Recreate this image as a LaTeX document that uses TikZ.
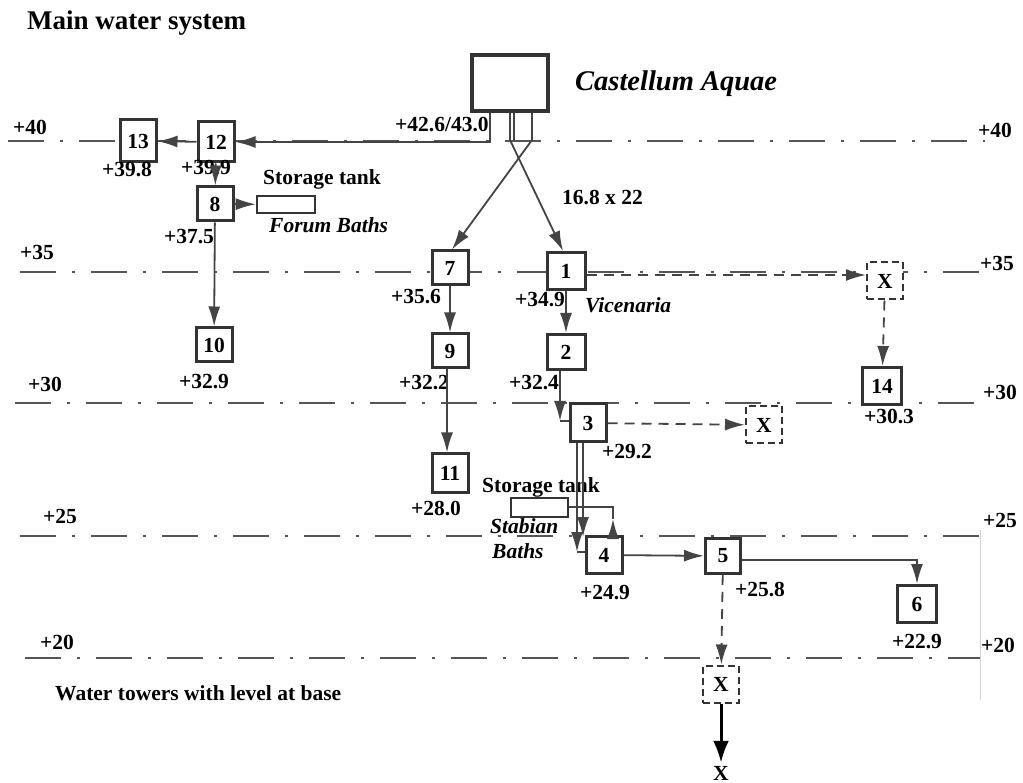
\documentclass[tikz,border=0pt]{standalone}
\usepackage{fontspec}
\setmainfont{Liberation Serif}
\usetikzlibrary{arrows.meta,calc}
\definecolor{ink}{HTML}{333333}
\definecolor{ln}{HTML}{444444}
\definecolor{lv}{HTML}{555555}
\newcommand{\lblfont}{\fontsize{21.5}{24}\selectfont\bfseries}
\tikzset{
 box/.style={draw=ink, line width=3pt, fill=white, minimum width=36pt, minimum height=36pt, inner sep=0pt, font=\lblfont},
 xbox/.style={draw=ink, line width=2pt, dash pattern=on 7pt off 4pt, fill=white, minimum width=36pt, minimum height=37pt, inner sep=0pt, font=\lblfont},
 tank/.style={draw=ink, line width=2.6pt, fill=white, inner sep=0pt},
 lab/.style={font=\lblfont, inner sep=0pt},
 ilab/.style={font=\lblfont\itshape, inner sep=0pt},
 arr/.style={draw=ln, line width=1.8pt, -{Latex[length=20pt,width=12pt]}},
 pipe/.style={draw=ln, line width=1.8pt},
 darr/.style={arr, dash pattern=on 10pt off 7pt},
 lvl/.style={draw=lv, line width=1.2pt, dash pattern=on 36pt off 16pt on 3pt off 16pt},
}
\begin{document}
\begin{tikzpicture}[x=1pt,y=-1pt]
\fill[white] (0,0) rectangle (1023,783);
\useasboundingbox (0,0) rectangle (1023,783);

% level lines
\draw[lvl] (8,141) -- (985,141);
\draw[lvl] (20,272) -- (985,272);
\draw[lvl] (15,403) -- (985,403);
\draw[lvl] (20,536) -- (980,536);
\draw[lvl] (25,658) -- (980,658);
\draw[gray!35, line width=0.6pt] (980,530) -- (980,700);

% level labels
\node[lab] (l40) at (30,127) {+40};
\node[lab] (l35) at (37,252) {+35};
\node[lab] (l30) at (45,384) {+30};
\node[lab] (l25) at (60,516) {+25};
\node[lab] (l20) at (57,642) {+20};
\node[lab] (r40) at (995,130) {+40};
\node[lab] (r35) at (997,263) {+35};
\node[lab] (r30) at (1000,392) {+30};
\node[lab] (r25) at (1000,520) {+25};
\node[lab] (r20) at (998,645) {+20};

% title and texts
\node[font=\fontsize{27}{30}\selectfont\bfseries, anchor=base west, inner sep=0pt] (title) at (27,30) {Main water system};
\node[font=\fontsize{28.5}{31}\selectfont\bfseries\itshape, anchor=base west, inner sep=0pt] (catxt) at (575,91) {Castellum Aquae};
\node[lab, anchor=base west] (st1) at (263,185) {Storage tank};
\node[ilab, anchor=base west] (forum) at (269,233) {Forum Baths};
\node[lab, anchor=base west] (st2) at (482,493) {Storage tank};
\node[ilab, anchor=base west] (stab) at (490,533) {Stabian};
\node[ilab, anchor=base west] (baths) at (492,558) {Baths};
\node[ilab, anchor=base west] (vic) at (585,313) {Vicenaria};
\node[lab, anchor=base west] (dim) at (562,205) {16.8 x 22};
\node[lab, anchor=base west] (h43) at (395,132) {+42.6/43.0};
\node[lab, anchor=base west] (wt) at (55,700) {Water towers with level at base};

% boxes
\node[draw=ink, line width=3.6pt, fill=white, minimum width=76pt, minimum height=56pt, inner sep=0pt] (ca) at (510,83) {};
\node[box, minimum height=42pt] (n13) at (138,141) {13};
\node[box, minimum height=40pt] (n12) at (216,142) {12};
\node[box, minimum height=34pt] (n8) at (215,204) {8};
\node[tank, minimum width=58pt, minimum height=17pt] (tankF) at (286,204.5) {};
\node[box, minimum height=34pt] (n10) at (214,345) {10};
\node[box, minimum height=34pt] (n7) at (450,268) {7};
\node[box, minimum width=38pt, minimum height=37pt] (n1) at (566,271) {1};
\node[box, minimum height=34pt] (n9) at (450,351) {9};
\node[box, minimum width=38pt, minimum height=35pt] (n2) at (566,352) {2};
\node[box, minimum height=38pt] (n11) at (450,473) {11};
\node[box, minimum height=38pt] (n3) at (588,423) {3};
\node[tank, minimum width=57pt, minimum height=19pt] (tankS) at (539.5,507.5) {};
\node[box, minimum height=37pt] (n4) at (604,555) {4};
\node[box, minimum width=35pt, minimum height=35pt] (n5) at (723,556) {5};
\node[box, minimum width=39pt, minimum height=37pt] (n6) at (917,604) {6};
\node[box, minimum width=39pt, minimum height=37pt] (n14) at (882,386) {14};
\node[xbox] (xa) at (885,281) {X};
\node[xbox] (xb) at (764,425) {X};
\node[xbox] (xc) at (721,684) {X};
\node[lab] (xfin) at (721,773) {X};

% number labels
\node[lab] at (127,170) {+39.8};
\node[lab] at (206,168) {+39.9};
\node[lab] at (189,237) {+37.5};
\node[lab] at (204,382) {+32.9};
\node[lab] at (416,297) {+35.6};
\node[lab] at (540,300) {+34.9};
\node[lab] at (424,383) {+32.2};
\node[lab] at (534,383) {+32.4};
\node[lab] at (436,509) {+28.0};
\node[lab] at (627,452) {+29.2};
\node[lab] at (605,593) {+24.9};
\node[lab] at (760,590) {+25.8};
\node[lab] at (917,642) {+22.9};
\node[lab] at (889,417) {+30.3};

% coordinates
\coordinate (ca1) at (490,142);
\coordinate (pL) at (510,140);
\coordinate (pR) at (532,140);
\coordinate (c23) at (560,421);
\coordinate (q1) at (585,275);
\coordinate (c34a) at (577,552);
\coordinate (c34b) at (583,537);
\coordinate (c4t) at (613,507);
\coordinate (c4m) at (613,519);
\coordinate (c56) at (917,560);

% connectors
\draw[arr] (ca.south -| ca1) -- (ca1) -- (n12.east);
\draw[pipe] (ca.south -| 514,0) -- (514,140);
\draw[arr] (ca.south -| pL) -- (pL) -- ($(n1.north)+(-3,0)$);
\draw[arr] (ca.south -| pR) -- (pR) -- ($(n7.north)+(2,0)$);
\draw[arr] (n12) -- (n13);
\draw[arr] (n12) -- (n8);
\draw[arr] (n8) -- (tankF);
\draw[arr] (n8) -- (n10);
\draw[arr] (n7) -- (n9);
\draw[arr] ($(n9.south)+(-3,0)$) -- ($(n11.north)+(-3,0)$);
\draw[arr] (n1) -- (n2);
\draw[arr] (n2.south -| c23) -- (c23);
\draw[pipe] (c23) -- (n3.west |- c23);
\draw[darr] (n3) -- (xb);
\draw[darr] (n1.east |- q1) -- (xa.west |- q1);
\draw[darr] (xa) -- (n14);
\draw[arr] (n3.south -| c34a) -- (c34a);
\draw[pipe] (c34a) -- (n4.west |- c34a);
\draw[arr] (n3.south -| c34b) -- (c34b);
\draw[arr] (n4.north -| c4t) -- (c4m);
\draw[pipe] (c4m) -- (c4t) -- (tankS.east |- c4t);
\draw[arr] (n4) -- (n5);
\draw[arr] (n5.east |- c56) -- (c56) -- (n6.north);
\draw[darr] (n5) -- (xc);
\draw[draw=black, line width=3pt, -{Latex[length=22pt,width=16pt]}, shorten >=3pt] (xc) -- (xfin);
\end{tikzpicture}
\end{document}
